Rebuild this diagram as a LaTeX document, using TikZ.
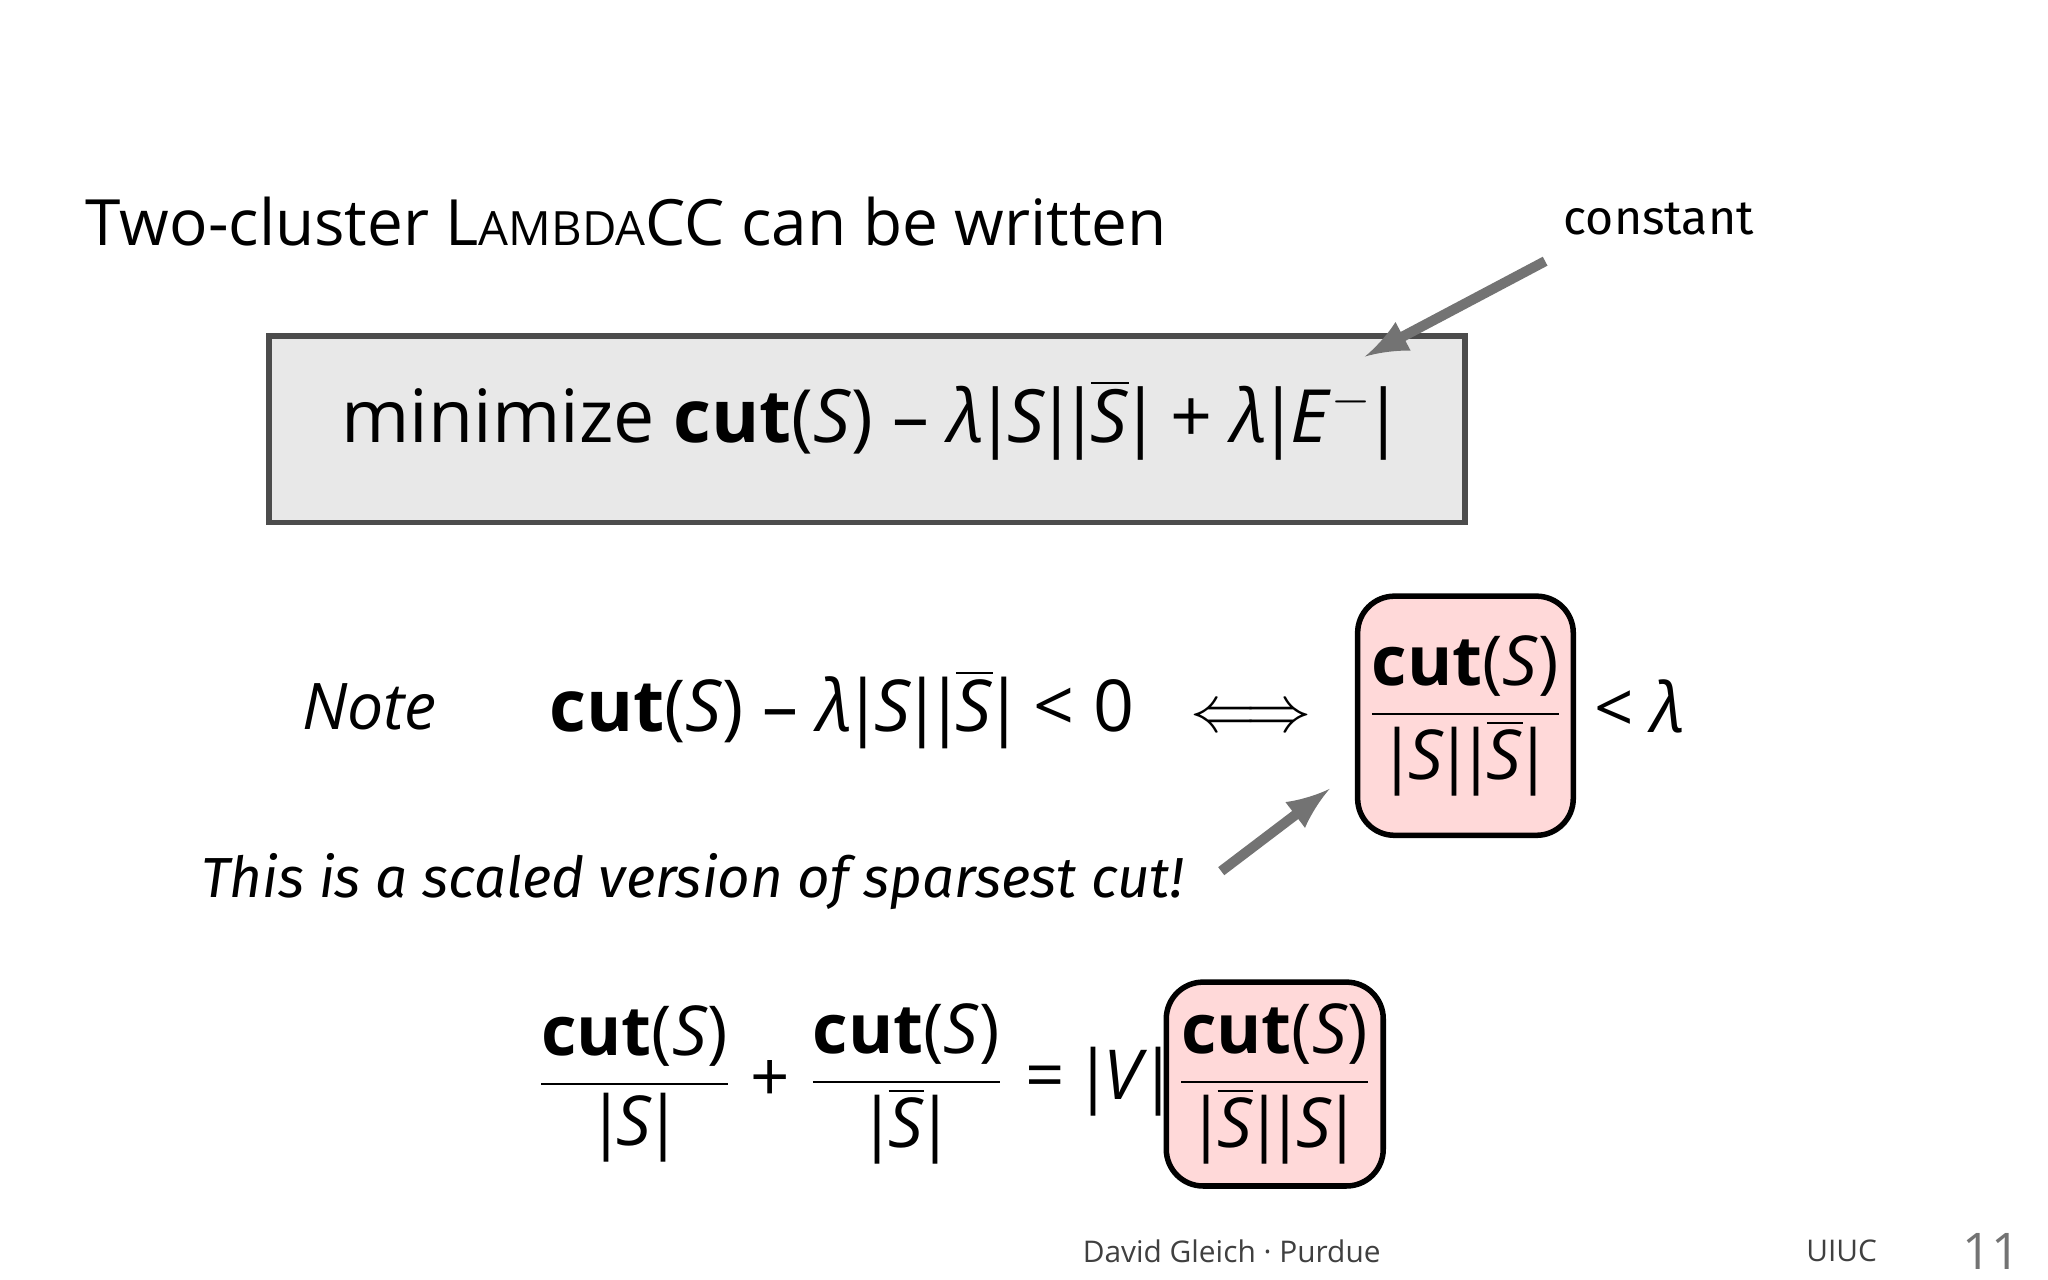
\documentclass[tikz,border=0pt]{standalone}
\usepackage{fontspec}
\setmainfont{Open Sans}
\newfontfamily\hand{Fira Sans}
\newcommand{\cutS}{\textbf{cut}(\textit{S})}
\newcommand{\vb}{\kern-0.12em|\kern-0.12em}
\newcommand{\Sb}{\ensuremath{\overline{\hbox{\textit{S}}}}}
\newcommand{\lam}{\textit{λ}}
\newcommand{\fr}[2]{\ensuremath{\displaystyle\frac{\hbox{#1}}{\hbox{#2}}}}
\begin{document}
\begin{tikzpicture}[x=0.01cm,y=-0.01cm,
  pinkbox/.style={draw=black,line width=1.2pt,fill=red!15,rounded corners=8pt,inner sep=1pt},
  arr/.style={draw=black!55,line width=2.2pt,-latex},
  t/.style={inner sep=0pt},
  big/.style={font=\fontsize{15}{18}\selectfont}]
\useasboundingbox (0,0) rectangle (1568,980);
\node[t,anchor=west,font=\fontsize{13.9}{17}\selectfont] (title) at (65,170) {Two-cluster L{\fontsize{10.3}{12}\selectfont AMBDA}CC can be written};
\node[draw=black!70,fill=black!9,line width=1.2pt,anchor=north west,minimum width=9.15cm,minimum height=1.43cm] (box) at (204,255) {};
\node[t,font=\fontsize{16}{19}\selectfont] (obj) at (665,322) {minimize \cutS{} – \lam\vb\textit{S}\vb\vb\Sb\vb{} + \lam\vb\textit{E}$^{-}$\vb};
\node[t,font=\hand\fontsize{10.5}{13}\selectfont] (const) at (1270,168) {constant};
\coordinate (c1) at (1183,200);
\coordinate (c2) at (1045,273);
\draw[arr] (c1) -- (c2);
\node[t,font=\itshape\fontsize{14}{18}\selectfont] (note) at (283,541) {Note};
\node[t,anchor=west,font=\fontsize{15.6}{19}\selectfont] (eq) at (420,543) {\cutS{} – \lam\vb\textit{S}\vb\vb\Sb\vb{} < 0 \ \ $\Longleftrightarrow$};
\node[pinkbox,big,minimum width=1.65cm,minimum height=1.83cm] (f1) at (1122,548) {\fr{\cutS}{\vb\textit{S}\vb\vb\Sb\vb}};
\node[t,anchor=west,big] (lt) at (1220,541) {< \lam};
\node[t,font=\hand\itshape\fontsize{12.3}{15}\selectfont] (hand) at (530,675) {This is a scaled version of sparsest cut!};
\coordinate (h1) at (935,667);
\coordinate (h2) at (1018,604);
\draw[arr] (h1) -- (h2);
\node[t,big] (fa) at (486,830) {\fr{\cutS}{\vb\textit{S}\vb}};
\node[t,big] (plus) at (590,828) {+};
\node[t,big] (fb) at (694,830) {\fr{\cutS}{\vb\Sb\vb}};
\node[t,big] (eqv) at (840,828) {= \vb\textit{V}\vb};
\node[pinkbox,big,minimum width=1.66cm,minimum height=1.56cm] (f2) at (976,830) {\fr{\cutS}{\vb\Sb\vb\vb\textit{S}\vb}};
\node[t,font=\fontsize{6.5}{8}\selectfont,text=black!75] (foot) at (943,958) {David Gleich · Purdue};
\node[t,font=\fontsize{6.5}{8}\selectfont,text=black!75] (uiuc) at (1410,958) {UIUC};
\node[t,font=\fontsize{11}{13}\selectfont,text=black!55] (pg) at (1525,958) {11};
\end{tikzpicture}
\end{document}
